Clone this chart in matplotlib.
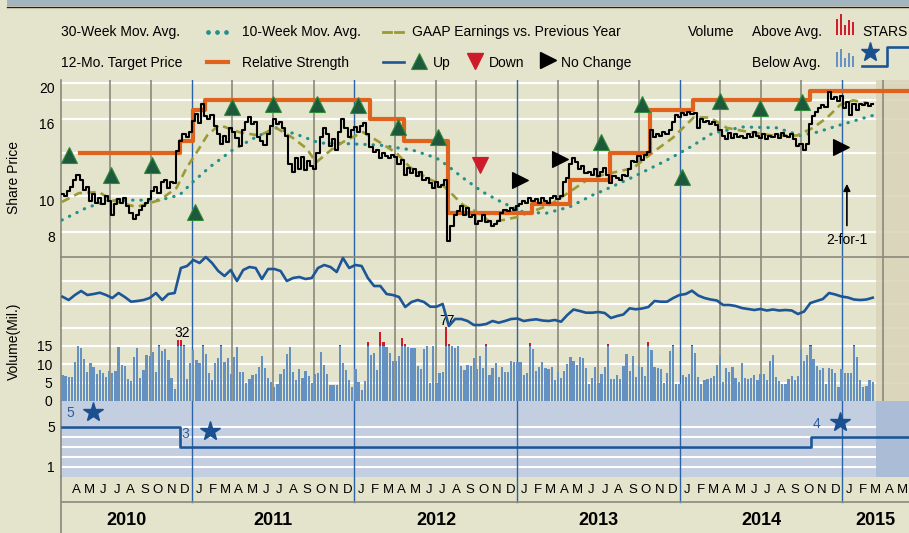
import numpy as np
import pandas as pd
import matplotlib
matplotlib.use('Agg')
import matplotlib.pyplot as plt
from matplotlib.ticker import NullLocator, NullFormatter
from matplotlib.transforms import ScaledTranslation
from matplotlib.patches import Rectangle

plt.rcParams['font.family'] = ['Liberation Sans', 'DejaVu Sans']
plt.rcParams['font.size'] = 10

# ---------------- data ----------------
first_week = '2010-03-16'

# weekly share price
price = [10.1, 10.0, 10.3, 10.6, 11.0, 11.4, 11.0, 10.4, 10.6, 9.7, 10.1, 9.6, 9.9,
         9.5, 10.0, 9.7, 8.9, 9.5, 9.8, 9.6, 9.9, 9.4, 9.0, 8.7, 8.9, 9.2,
         9.4, 9.6, 9.8, 10.3, 10.6, 10.2, 10.9, 11.0, 10.5, 10.9, 10.8, 13.2, 14.0,
         14.6, 14.4, 14.8, 15.9, 16.5, 15.7, 17.6, 16.3, 16.0, 16.4, 15.4, 14.6, 13.8,
         14.5, 13.9, 15.2, 14.8, 14.3, 13.6, 15.0, 15.8, 16.2, 15.6, 15.8, 14.4, 14.0,
         13.7, 14.6, 15.4, 16.0, 15.6, 15.8, 15.2, 14.5, 12.2, 11.6, 12.6, 11.8, 12.7,
         11.7, 12.4, 12.0, 11.8, 13.0, 14.4, 15.2, 14.6, 13.6, 14.2, 13.3, 14.8, 16.0,
         15.2, 14.4, 15.0, 15.3, 14.8, 15.4, 15.7, 14.6, 13.5, 13.1, 13.3, 12.6, 13.0,
         12.8, 12.6, 12.9, 12.7, 12.2, 12.5, 11.4, 11.9, 11.5, 11.8, 11.3, 11.6, 11.0,
         11.2, 10.8, 10.5, 10.9, 10.6, 10.7, 11.0, 7.6, 8.3, 8.9, 9.1, 9.4, 8.9,
         9.3, 8.8, 8.9, 8.4, 8.6, 8.9, 8.5, 8.6, 8.3, 8.4, 8.6, 9.0, 9.2,
         9.1, 9.3, 9.2, 9.4, 9.5, 9.7, 9.6, 9.9, 9.7, 9.8, 9.6, 9.9, 9.7,
         9.6, 9.9, 10.0, 9.8, 10.0, 10.9, 11.2, 12.2, 12.6, 12.3, 11.8, 12.0, 11.5,
         11.6, 11.4, 11.8, 11.3, 11.6, 11.9, 11.4, 10.8, 11.3, 11.2, 11.0, 11.4, 11.3,
         11.8, 12.4, 12.3, 12.8, 12.5, 12.9, 13.1, 15.0, 14.4, 14.6, 14.5, 14.8, 14.6,
         15.0, 15.8, 16.4, 16.2, 16.6, 16.4, 16.8, 16.5, 16.7, 15.2, 16.0, 15.8, 15.9,
         15.6, 15.8, 15.5, 15.0, 14.5, 14.2, 14.7, 14.3, 14.6, 14.4, 14.5, 14.3, 14.6,
         14.4, 14.8, 14.5, 14.3, 14.6, 14.2, 14.5, 14.4, 14.6, 14.3, 14.7, 14.5, 14.4,
         14.6, 14.2, 13.6, 13.8, 13.3, 13.8, 15.6, 16.3, 16.8, 17.2, 17.5, 17.3, 18.9,
         18.2, 18.4, 17.9, 18.5, 17.2, 17.8, 16.4, 17.6, 17.0, 17.6, 17.5, 17.7, 17.4,
         17.6]

# weekly volume (mil.), as drawn (tall weeks are cut off above 15)
volume = [7.1, 6.8, 6.6, 6.6, 10.7, 15.0, 14.4, 11.5, 7.8, 10.3,
          9.4, 7.4, 8.5, 7.7, 6.6, 8.2, 7.5, 8.3, 14.8, 9.7,
          9.5, 5.9, 5.4, 12.1, 14.5, 6.4, 8.5, 12.5, 12.3, 13.4,
          7.9, 15.2, 13.7, 14.3, 11.2, 6.2, 3.3, 16.5, 16.5, 15.3,
          6.0, 10.3, 13.9, 11.2, 10.3, 15.3, 12.7, 7.5, 5.7, 10.3,
          11.6, 15.3, 10.7, 11.6, 7.4, 11.9, 14.8, 8.0, 7.8, 4.8,
          6.0, 7.0, 7.3, 9.4, 12.3, 8.9, 6.3, 5.3, 3.9, 4.6,
          7.4, 8.8, 12.8, 14.8, 7.8, 5.7, 8.7, 6.2, 8.3, 6.9,
          5.0, 7.3, 7.7, 13.4, 9.7, 7.3, 4.4, 4.4, 4.4, 15.3,
          10.3, 8.5, 5.7, 3.9, 8.7, 5.3, 3.0, 5.5, 16.1, 12.5,
          13.0, 8.5, 18.8, 16.1, 14.8, 13.0, 10.9, 11.0, 12.3, 17.2,
          15.5, 14.8, 14.5, 14.5, 9.5, 8.8, 14.2, 15.1, 4.8, 15.0,
          4.8, 7.7, 8.0, 20.3, 15.5, 15.0, 14.5,
          15.0, 9.5, 8.5, 9.8, 9.5, 11.6, 8.6, 12.3, 9.1, 15.5,
          7.1, 8.9, 10.3, 6.6, 9.2, 7.9, 7.8, 11.0, 10.6, 10.6,
          10.5, 7.1, 7.5, 15.9, 14.2, 8.2, 9.2, 10.5, 8.9, 8.6,
          9.2, 5.7, 7.9, 6.2, 8.1, 10.0, 12.1, 10.8, 9.7, 12.1,
          11.6, 9.1, 4.6, 6.2, 9.2, 4.8, 7.3, 9.2, 15.5, 5.9,
          5.9, 7.2, 6.1, 9.5, 12.8, 8.3, 12.3, 6.6, 9.6, 9.2,
          6.8, 16.2, 13.9, 9.2, 9.0, 8.6, 4.8, 7.5, 13.6, 15.3,
          4.6, 4.6, 7.2, 6.6, 7.4, 15.3, 13.0, 6.6, 4.6, 5.7,
          6.0, 6.2, 6.8, 9.8, 12.6, 5.3, 8.9, 8.0, 9.4, 6.4,
          5.3, 10.3, 6.2, 6.0, 6.4, 7.0, 5.7, 7.4, 7.4, 5.7,
          10.9, 12.5, 6.6, 5.5, 4.6, 4.6, 5.9, 6.8, 5.7, 6.8,
          13.9, 10.8, 12.5, 15.3, 11.4, 9.5, 8.5, 9.1, 4.6, 9.1,
          8.8, 7.5, 3.9, 8.6, 7.5, 7.5, 7.5, 15.3, 11.9, 5.7,
          3.7, 4.1, 5.7, 5.3]
vol_notes = [('2010-12-09', 18.5, '32'), ('2012-07-26', 21.8, '77')]

# relative strength, every second week (arbitrary index)
rel_strength = [104.3, 101, 106, 110, 106, 107, 108.3, 106, 103, 108,
                104, 99.3, 100, 101, 103, 108, 101, 107, 108, 133,
                135, 141, 138, 144, 138, 130, 125, 131, 120, 131,
                134, 133, 122, 132, 132, 130, 120, 123, 124, 122,
                123, 133, 136, 134, 129, 143, 133, 136, 135, 123,
                115, 115, 107, 106, 104, 94, 99, 101, 99, 94.3,
                94.3, 97, 75, 82, 82, 80, 76, 76, 77, 80,
                78.3, 80, 82, 82.5, 80, 81, 81.7, 80.5, 80, 81,
                79.3, 86, 91.5, 90, 88.3, 88.3, 89, 88, 83, 85,
                86.5, 92.7, 91.7, 92.5, 94, 100, 99.3, 99.3, 103, 106,
                107, 110.3, 105.5, 103, 101.5, 100.5, 96, 96, 95, 93,
                92, 91, 92, 90.5, 91.5, 90.5, 91, 90.5, 87, 89.5,
                98, 100, 102, 108, 106.5, 104.5, 103.5, 101.5, 101, 101.5,
                103.3]

ma10_dates = ['2010-03-15', '2010-04-22', '2010-06-06', '2010-07-05', '2010-08-29',
              '2010-10-20', '2010-11-27', '2010-12-20', '2011-01-12', '2011-02-04',
              '2011-03-03', '2011-04-17', '2011-06-01', '2011-07-09', '2011-08-15',
              '2011-09-15', '2011-10-07', '2011-11-17', '2011-12-14', '2012-01-20',
              '2012-02-27', '2012-04-05', '2012-05-04', '2012-06-11', '2012-07-17',
              '2012-08-02', '2012-09-01', '2012-10-02', '2012-11-01', '2012-11-30',
              '2013-01-01', '2013-01-30', '2013-03-14', '2013-04-28', '2013-06-06',
              '2013-07-11', '2013-09-18', '2013-11-02', '2013-12-16', '2014-02-01',
              '2014-03-09', '2014-04-16', '2014-06-07', '2014-07-28', '2014-09-21',
              '2014-10-27', '2014-11-28', '2014-12-27', '2015-01-25', '2015-02-26']
ma10 = [9.64, 10.18, 10.25, 9.75, 9.35, 9.75, 10.5, 11.9, 13.1, 14.5,
        15.47, 14.8, 14.5, 15.2, 14.3, 13.4, 12.3, 13.5, 14.1, 14.8,
        13.9, 13.0, 11.95, 11.17, 10.7, 10.25, 9.46, 9.06, 8.52, 8.63,
        8.79, 9.06, 9.46, 10.25, 11.03, 11.38, 11.87, 13.1, 14.3, 16.2,
        16.2, 15.2, 14.8, 14.5, 14.5, 15.2, 16.2, 17.5, 18.0, 17.7]

ma30_dates = ['2010-03-15', '2010-05-08', '2010-06-29', '2010-08-29', '2010-10-20',
              '2010-12-04', '2011-01-03', '2011-02-10', '2011-04-02', '2011-05-25',
              '2011-07-09', '2011-08-31', '2011-10-14', '2011-12-10', '2012-02-27',
              '2012-05-10', '2012-07-03', '2012-07-26', '2012-09-01', '2012-10-15',
              '2012-11-30', '2013-01-14', '2013-03-07', '2013-04-28', '2013-06-19',
              '2013-07-16', '2013-09-18', '2013-12-03', '2014-01-24', '2014-03-15',
              '2014-05-22', '2014-08-07', '2014-09-28', '2014-11-05', '2014-12-27',
              '2015-03-10']
ma30 = [8.63, 9.29, 9.75, 9.75, 9.75, 10.06, 10.9, 11.95, 13.26, 14.37,
        15.2, 14.5, 13.85, 13.8, 13.67, 13.26, 12.63, 12.1, 11.17, 10.25,
        9.58, 9.06, 9.0, 9.35, 10.06, 10.38, 11.24, 12.47, 13.5, 14.7,
        15.28, 15.2, 14.5, 14.8, 15.47, 16.4]

target_dates = ['2010-04-24', '2010-12-05', '2011-01-03', '2011-01-30', '2012-02-04',
                '2012-04-22', '2012-07-28', '2013-02-03', '2013-04-29', '2013-07-28',
                '2013-10-26', '2014-01-30', '2014-10-20']
target = [13, 14, 17, 18, 16, 14, 9, 9.5, 11, 13, 17, 18, 19]

eps_dates = ['2010-03-30', '2010-07-03', '2010-10-03', '2011-01-08', '2011-04-01',
             '2011-07-01', '2011-10-08', '2012-01-08', '2012-04-07', '2012-07-07',
             '2012-10-09', '2013-01-07', '2013-04-07', '2013-07-08', '2013-10-08',
             '2014-01-06', '2014-04-01', '2014-06-30', '2014-10-02', '2014-12-29']
eps_level = [12.86, 11.38, 12.10, 9.06, 17.27, 17.59, 17.59, 17.48, 15.28, 14.37,
             12.10, 11.03, 12.55, 13.93, 17.59, 11.24, 17.92, 17.16, 17.81, 13.51]
eps_dir = ['up'] * 10 + ['down', 'flat', 'flat'] + ['up'] * 6 + ['flat']

stars_dates = ['2010-03-16', '2010-12-05', '2014-10-22']
stars = [5, 3, 4]
stars_notes = [('2010-04-02', 6.37, '5', '2010-05-24', 6.47),
               ('2010-12-18', 4.32, '3', '2011-02-10', 4.57),
               ('2014-11-04', 5.27, '4', '2014-12-26', 5.47)]

split_date = '2015-01-11'

months = 'JFMAMJJASOND'

# ---------------- colours ----------------
BG = '#e4e3cb'
SHADE = '#d9d3b9'
GRAY = '#8b897b'
YEARBLUE = '#2b63a6'
ORANGE = '#e0621c'
TEAL = '#23908e'
OLIVE = '#9c9a34'
RSBLUE = '#1d5697'
BARBLUE = '#6590c2'
RED = '#cf1a2b'
GREEN = '#1d5a3b'
STARBG = '#c4cee1'
STARSHADE = '#aabcd6'

W, H = 909, 533
fig = plt.figure(figsize=(W / 100, H / 100), dpi=100)
fig.patch.set_facecolor(BG)


def box(l, t, r, b):
    return [l / W, 1 - b / H, (r - l) / W, (b - t) / H]


weeks = pd.date_range(first_week, periods=len(price), freq='7D')
vweeks = pd.date_range(first_week, periods=len(volume), freq='7D')
rsweeks = pd.date_range(first_week, periods=len(rel_strength), freq='14D')
t0 = pd.Timestamp('2010-03-12 18:00')
t1 = pd.Timestamp('2015-05-30 12:00')
future = pd.Timestamp('2015-03-17')
quarters = pd.date_range('2010-07-01', '2015-04-01', freq='QS')

# legend / frame overlay in pixel units
ax_l = fig.add_axes([0, 0, 1, 1])
ax_l.set_zorder(-1)
ax_l.set_xlim(0, W)
ax_l.set_ylim(H, 0)
ax_l.axis('off')
ax_l.add_patch(Rectangle((7, 0), W - 7, 6, color='#a3b5c1', lw=0))
ax_l.plot([7, W], [6.5, 6.5], color='#222222', lw=1)

ax_p = fig.add_axes(box(61, 80, 909, 257))
ax_v = fig.add_axes(box(61, 257, 909, 401))
ax_s = fig.add_axes(box(61, 401, 909, 477))
ax_m = fig.add_axes(box(61, 477, 909, 533))

for ax in (ax_p, ax_v, ax_s, ax_m):
    ax.set_facecolor(BG)
    ax.set_xlim(t0, t1)
    ax.set_xticks([])
    for side in ('top', 'right', 'bottom'):
        ax.spines[side].set_visible(False)
    ax.spines['left'].set_color(GRAY)
    ax.spines['left'].set_linewidth(1.2)
    ax.tick_params(axis='y', length=0, labelsize=10)

# vertical quarter / year lines
for q in quarters:
    if q.month == 1:
        for ax in (ax_p, ax_v, ax_s):
            ax.axvline(q, color=YEARBLUE, lw=1.0, zorder=2)
        ax_m.axvline(q, ymin=0.554, color=YEARBLUE, lw=1.0)
    else:
        for ax in (ax_p, ax_v):
            ax.axvline(q, color=GRAY, lw=1.2, zorder=2)

# ---------------- price panel ----------------
ax_p.set_yscale('log')
ax_p.set_ylim(6.876, 20.39)
for g in [8, 10, 13, 16, 18, 20]:
    ax_p.axhline(g, color='white', lw=1.6, zorder=1)
ax_p.axvspan(future, t1, color=SHADE, alpha=0.85, lw=0, zorder=1.5)
ax_p.yaxis.set_minor_locator(NullLocator())
ax_p.yaxis.set_minor_formatter(NullFormatter())
ax_p.set_yticks([8, 10, 16, 20])
ax_p.set_yticklabels(['8', '10', '16', '20'])
ax_p.tick_params(axis='y', pad=4.5)
for lab in ax_p.get_yticklabels():
    lab.set_transform(lab.get_transform() + ScaledTranslation(0, -0.04, fig.dpi_scale_trans))

ax_p.plot(pd.to_datetime(ma30_dates), ma30, color=TEAL, lw=2.3,
          linestyle=(0, (0.1, 2.5)), dash_capstyle='round', zorder=3)
ax_p.plot(pd.to_datetime(ma10_dates), ma10, color=OLIVE, lw=1.9,
          linestyle=(0, (3.2, 2.0)), zorder=3)
tx = list(pd.to_datetime(target_dates)) + [t1]
ty = target + [target[-1]]
ax_p.step(tx, ty, where='post', color=ORANGE, lw=3.0, zorder=3.5, clip_on=False)
ax_p.plot(weeks, price, color='black', lw=1.5, drawstyle='steps-mid', zorder=4)

mk = {'up': ('^', GREEN, '#2f8a3a'), 'down': ('v', RED, RED), 'flat': ('>', 'black', 'black')}
for d, lv, kind in zip(pd.to_datetime(eps_dates), eps_level, eps_dir):
    m, fc, ec = mk[kind]
    ax_p.plot(d, lv, marker=m, ms=12, mfc=fc, mec=ec, mew=0.8, zorder=5, clip_on=False)

sd = pd.Timestamp(split_date)
ax_p.annotate('', xy=(sd, 10.96), xytext=(sd, 8.2),
              arrowprops=dict(arrowstyle='-|>', color='black', lw=1.2,
                              mutation_scale=10), zorder=5)
ax_p.text(sd, 7.63, '2-for-1', ha='center', va='center', fontsize=10, zorder=5)

# ---------------- volume + relative strength ----------------
ax_v.set_ylim(0, 144 / 3.667)
ax_v.spines['top'].set_visible(True)
ax_v.spines['top'].set_color(GRAY)
ax_v.spines['top'].set_linewidth(1.2)
for g in [5, 10, 15, 19.9, 26.5, 32.7]:
    ax_v.axhline(g, color='white', lw=1.6, zorder=1)
ax_v.axvspan(future, t1, color=SHADE, alpha=0.85, lw=0, zorder=1.5)
vol = np.array(volume)
ax_v.bar(vweeks, np.minimum(vol, 15), width=5.0, color=BARBLUE, lw=0, zorder=3)
over = np.maximum(vol - 15, 0)
ax_v.bar(vweeks, over, bottom=15, width=5.0, color=RED, lw=0, zorder=3)
for d, y, s in vol_notes:
    ax_v.text(pd.Timestamp(d), y, s, ha='center', va='center', fontsize=10, zorder=6)
ax_v.set_yticks([0, 5, 10, 15])
ax_v.set_yticklabels(['0', '5', '10', '15'])
ax_v.tick_params(axis='y', pad=6)

ax_r = ax_v.twinx()
ax_r.set_ylim(0, 144)
ax_r.set_yticks([])
for side in ax_r.spines:
    ax_r.spines[side].set_visible(False)
ax_r.plot(rsweeks, rel_strength, color=RSBLUE, lw=1.9, zorder=4, clip_on=False)

# ---------------- STARS panel ----------------
ax_s.set_facecolor(STARBG)
ax_s.set_ylim(-0.03, 7.57)
for g in [1, 2, 3, 4, 5]:
    ax_s.axhline(g, color='white', lw=1.5, zorder=1)
ax_s.axvspan(future, t1, color=STARSHADE, lw=0, zorder=1.5)
sx = list(pd.to_datetime(stars_dates)) + [t1]
sy = stars + [stars[-1]]
ax_s.step(sx, sy, where='post', color=RSBLUE, lw=1.9, zorder=3)
for d, y, s, d2, y2 in stars_notes:
    ax_s.text(pd.Timestamp(d), y, s, ha='center', va='center', fontsize=10,
              color='#2c5f9e', zorder=4)
    ax_s.plot(pd.Timestamp(d2), y2, marker='*', ms=15, color='#1a4f90', zorder=4)
ax_s.set_yticks([1, 5])
ax_s.set_yticklabels(['1', '5'])
ax_s.tick_params(axis='y', pad=4.5)

# ---------------- month / year rows ----------------
ax_m.set_ylim(0, 1)
ax_m.set_yticks([])
ax_m.axhline(0.554, color=GRAY, lw=1.2)
for m in pd.date_range('2010-04-01', '2015-05-01', freq='MS'):
    ax_m.text(m + pd.Timedelta(days=15.2), 0.768, months[m.month - 1],
              ha='center', va='center', fontsize=9.5, clip_on=True)
for yr in range(2010, 2016):
    a = max(pd.Timestamp(yr, 1, 1), t0)
    b = min(pd.Timestamp(yr + 1, 1, 1), t1)
    ax_m.text(a + (b - a) / 2, 0.232, str(yr), ha='center', va='center',
              fontsize=13, fontweight='bold')

# ---------------- side labels and legend ----------------
ax_l.text(14, 177, 'Share Price', rotation=90, ha='center', va='center', fontsize=10)
ax_l.text(14, 341, 'Volume(Mil.)', rotation=90, ha='center', va='center', fontsize=10)

r1, r2 = 32, 63
ax_l.text(61, r1, '30-Week Mov. Avg.', va='center')
ax_l.plot([208, 217, 226], [r1, r1, r1], ls='none', marker='o', ms=2.4, color=TEAL)
ax_l.text(242, r1, '10-Week Mov. Avg.', va='center')
ax_l.plot([383, 391], [r1, r1], color=OLIVE, lw=2)
ax_l.plot([395, 403], [r1, r1], color=OLIVE, lw=2)
ax_l.text(412, r1, 'GAAP Earnings vs. Previous Year', va='center')
ax_l.text(688, r1, 'Volume', va='center')
ax_l.text(752, r1, 'Above Avg.', va='center')
ax_l.vlines([837, 841, 845, 849, 853], 35, [19, 14, 25, 20, 22], color=RED, lw=1.4)
ax_l.text(862, r1, 'STARS', va='center')

ax_l.text(61, r2, '12-Mo. Target Price', va='center')
ax_l.plot([207, 228], [62, 62], color=ORANGE, lw=3)
ax_l.text(242, r2, 'Relative Strength', va='center')
ax_l.plot([383, 404], [62, 62], color=RSBLUE, lw=1.9)
ax_l.plot(419, 61, marker='^', ms=12, mfc=GREEN, mec='#2f8a3a', mew=0.8)
ax_l.text(433, r2, 'Up', va='center')
ax_l.plot(475, 61, marker='v', ms=12, color=RED)
ax_l.text(489, r2, 'Down', va='center')
ax_l.plot(548, 60, marker='>', ms=12, color='black')
ax_l.text(561, r2, 'No Change', va='center')
ax_l.text(752, r2, 'Below Avg.', va='center')
ax_l.vlines([837, 841, 845, 849, 853], 67, [52, 49, 58, 53, 56], color=BARBLUE, lw=1.4)
ax_l.plot(870, 52, marker='*', ms=14, color='#1a4f90')
ax_l.plot([862, 887, 887, 909], [65.5, 65.5, 47, 47], color=RSBLUE, lw=1.9)

fig.savefig('out.png', dpi=100, facecolor=BG)
